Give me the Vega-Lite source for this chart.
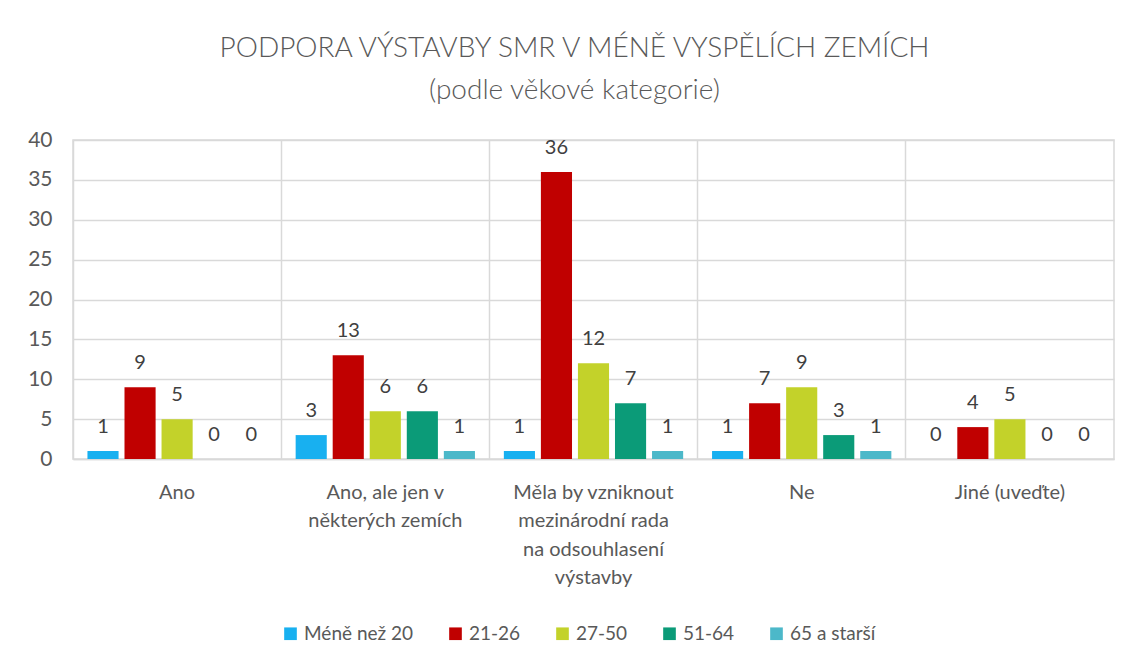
{
  "$schema": "https://vega.github.io/schema/vega-lite/v6.json",
  "width": 1041,
  "height": 319,
  "autosize": {"type": "none"},
  "padding": {"left": 73, "top": 140, "right": 34, "bottom": 205},
  "background": "white",
  "title": {
    "text": ["PODPORA VÝSTAVBY SMR V MÉNĚ VYSPĚLÍCH ZEMÍCH", "(podle věkové kategorie)"],
    "font": "Lato",
    "fontSize": 28,
    "fontWeight": 300,
    "color": "#595959",
    "lineHeight": 42,
    "anchor": "middle",
    "dx": -19,
    "offset": 24
  },
  "data": {
    "values": [
      {"kategorie": "Ano", "vek": "Méně než 20", "pocet": 1},
      {"kategorie": "Ano", "vek": "21-26", "pocet": 9},
      {"kategorie": "Ano", "vek": "27-50", "pocet": 5},
      {"kategorie": "Ano", "vek": "51-64", "pocet": 0},
      {"kategorie": "Ano", "vek": "65 a starší", "pocet": 0},
      {"kategorie": "Ano, ale jen v|některých zemích", "vek": "Méně než 20", "pocet": 3},
      {"kategorie": "Ano, ale jen v|některých zemích", "vek": "21-26", "pocet": 13},
      {"kategorie": "Ano, ale jen v|některých zemích", "vek": "27-50", "pocet": 6},
      {"kategorie": "Ano, ale jen v|některých zemích", "vek": "51-64", "pocet": 6},
      {"kategorie": "Ano, ale jen v|některých zemích", "vek": "65 a starší", "pocet": 1},
      {"kategorie": "Měla by vzniknout|mezinárodní rada|na odsouhlasení|výstavby", "vek": "Méně než 20", "pocet": 1},
      {"kategorie": "Měla by vzniknout|mezinárodní rada|na odsouhlasení|výstavby", "vek": "21-26", "pocet": 36},
      {"kategorie": "Měla by vzniknout|mezinárodní rada|na odsouhlasení|výstavby", "vek": "27-50", "pocet": 12},
      {"kategorie": "Měla by vzniknout|mezinárodní rada|na odsouhlasení|výstavby", "vek": "51-64", "pocet": 7},
      {"kategorie": "Měla by vzniknout|mezinárodní rada|na odsouhlasení|výstavby", "vek": "65 a starší", "pocet": 1},
      {"kategorie": "Ne", "vek": "Méně než 20", "pocet": 1},
      {"kategorie": "Ne", "vek": "21-26", "pocet": 7},
      {"kategorie": "Ne", "vek": "27-50", "pocet": 9},
      {"kategorie": "Ne", "vek": "51-64", "pocet": 3},
      {"kategorie": "Ne", "vek": "65 a starší", "pocet": 1},
      {"kategorie": "Jiné (uveďte)", "vek": "Méně než 20", "pocet": 0},
      {"kategorie": "Jiné (uveďte)", "vek": "21-26", "pocet": 4},
      {"kategorie": "Jiné (uveďte)", "vek": "27-50", "pocet": 5},
      {"kategorie": "Jiné (uveďte)", "vek": "51-64", "pocet": 0},
      {"kategorie": "Jiné (uveďte)", "vek": "65 a starší", "pocet": 0}
    ]
  },
  "encoding": {
    "x": {
      "field": "kategorie",
      "type": "nominal",
      "sort": null,
      "scale": {"paddingInner": 0, "paddingOuter": 0},
      "axis": {
        "title": null,
        "labelAngle": 0,
        "labelExpr": "split(datum.label, '|')",
        "labelFont": "Lato",
        "labelFontSize": 20,
        "labelColor": "#595959",
        "labelLineHeight": 28.5,
        "labelPadding": 23,
        "labelBaseline": "top",
        "bandPosition": 0,
        "grid": true,
        "gridColor": "#d9d9d9",
        "gridWidth": 1.5,
        "ticks": false,
        "domainColor": "#d9d9d9",
        "domainWidth": 1.5
      }
    },
    "xOffset": {
      "field": "vek",
      "type": "nominal",
      "sort": ["Méně než 20", "21-26", "27-50", "51-64", "65 a starší"],
      "scale": {"paddingInner": 0.16, "paddingOuter": 0.39}
    },
    "y": {
      "field": "pocet",
      "type": "quantitative",
      "scale": {"domain": [0, 40]},
      "axis": {
        "title": null,
        "values": [0, 5, 10, 15, 20, 25, 30, 35, 40],
        "labelOverlap": false,
        "labelFont": "Lato",
        "labelFontSize": 21,
        "labelColor": "#595959",
        "labelPadding": 21,
        "ticks": false,
        "domain": false,
        "gridColor": "#d9d9d9",
        "gridWidth": 1.5
      }
    }
  },
  "layer": [
    {
      "mark": {"type": "bar"},
      "encoding": {
        "color": {
          "field": "vek",
          "type": "nominal",
          "sort": ["Méně než 20", "21-26", "27-50", "51-64", "65 a starší"],
          "scale": {
            "domain": ["Méně než 20", "21-26", "27-50", "51-64", "65 a starší"],
            "range": ["#18b0f0", "#c00000", "#c3d22a", "#0b9b78", "#4cb8c9"]
          },
          "legend": {
            "title": null,
            "orient": "none",
            "direction": "horizontal",
            "legendX": 208,
            "legendY": 484,
            "symbolType": "square",
            "symbolSize": 160,
            "symbolStrokeWidth": 0,
            "labelFont": "Lato",
            "labelFontSize": 19,
            "labelColor": "#595959",
            "columnPadding": 32,
            "labelOffset": 4
          }
        }
      }
    },
    {
      "mark": {
        "type": "text",
        "baseline": "middle",
        "dy": -24,
        "font": "Lato",
        "fontSize": 20,
        "color": "#404040"
      },
      "encoding": {
        "text": {"field": "pocet", "type": "quantitative"}
      }
    }
  ],
  "config": {
    "view": {"stroke": "#d9d9d9", "strokeWidth": 1.5}
  }
}
